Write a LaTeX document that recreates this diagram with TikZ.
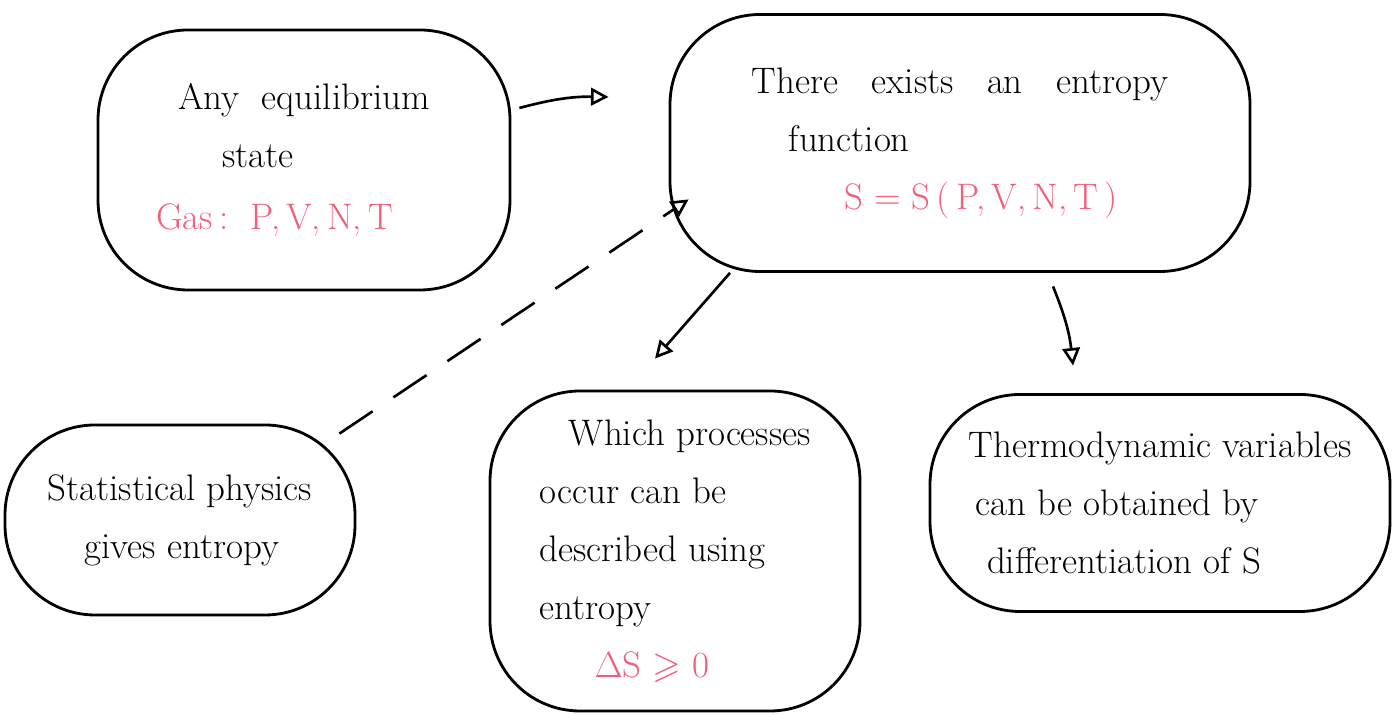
\documentclass[tikz,border=0pt]{standalone}
\usepackage{amsmath}
\usepackage{amssymb}
\usepackage{tikz}
\usetikzlibrary{arrows.meta}
\definecolor{gasred}{HTML}{F25F7A}

\begin{document}
\begin{tikzpicture}[
  blob/.style={draw,line width=1.6pt,rounded corners=1.8cm,inner sep=0pt,
    font=\fontsize{21}{33}\selectfont},
  flow/.style={-{Triangle[open,length=10pt,width=10pt]},line width=1.5pt}]
\useasboundingbox (0,0) rectangle (27.88,14.3);
\node [blob,minimum width=8.24cm,minimum height=5.2cm,align=left] (b1) at (6.08,11.1)
  {Any\ \ equilibrium\\\hspace*{1.2em}state\\[2pt]\hspace*{-0.6em}\textcolor{gasred}{Gas\,:\ \ P,\,V,\,N,\,T}};
\node [blob,minimum width=11.6cm,minimum height=5.14cm,align=left] (b2) at (19.2,11.44)
  {There\ \ \ exists\ \ \ an\ \ \ entropy\\\hspace*{1em}function\\\hspace*{2.5em}\textcolor{gasred}{S = S\,(\,P,\,V,\,N,\,T\,)}};
\node [blob,minimum width=7cm,minimum height=3.8cm,align=left] (b3) at (3.6,3.9)
  {Statistical physics\\\hspace*{1em}gives entropy};
\node [blob,minimum width=7.4cm,minimum height=6.4cm,align=left] (b4) at (13.5,3.28)
  {\hspace*{0.8em}Which processes\\occur can be\\described using\\entropy\\\hspace*{1.5em}\textcolor{gasred}{$\Delta$S\ $\geqslant$\ 0}};
\node [blob,minimum width=9.2cm,minimum height=4.34cm,align=left] (b5) at (23.2,4.24)
  {Thermodynamic variables\\\hspace*{0.2em}can be obtained by\\\hspace*{0.5em}differentiation of S};
\draw [flow] ([xshift=0.16cm,yshift=1.04cm]b1.east) to[bend left=8] ([xshift=-1.2cm,yshift=0.92cm]b2.west);
\draw [flow,dash pattern=on 0.8cm off 0.5cm] ([shift={(-0.34,-0.2)}]b3.north east) -- ([shift={(0.4,1.47)}]b2.south west);
\draw [flow] ([xshift=-4.6cm]b2.south) -- ([shift={(-0.4,0.62)}]b4.north);
\draw [flow] ([shift={(1.86,-0.27)}]b2.south) to[bend left=8] ([shift={(-1.74,0.55)}]b5.north);
\end{tikzpicture}
\end{document}
